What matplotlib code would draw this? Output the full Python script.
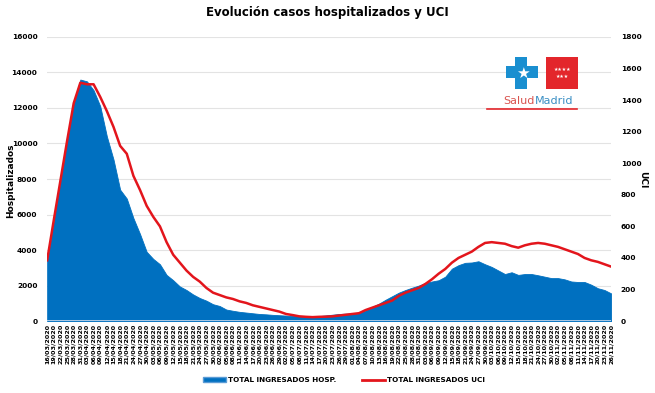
import numpy as np
import pandas as pd
import matplotlib
matplotlib.use("Agg")
import matplotlib.pyplot as plt
from matplotlib.patches import Rectangle, Polygon, Patch
from matplotlib.lines import Line2D

# values read every 3 days, 16/03/2020 .. 26/11/2020
dates = pd.date_range("2020-03-16", "2020-11-26", freq="3D")
hosp = [3400, 5650, 7900, 10150, 12300, 13600, 13500, 13000, 12100, 10400,
        9100, 7400, 6900, 5800, 4900, 3900, 3500, 3200, 2600, 2300,
        1950, 1750, 1500, 1300, 1150, 950, 850, 650, 580, 520,
        480, 440, 400, 380, 350, 330, 310, 290, 280, 270,
        270, 280, 320, 360, 400, 420, 430, 450, 600, 800,
        980, 1200, 1400, 1600, 1750, 1880, 2000, 2150, 2230, 2300,
        2500, 2950, 3150, 3280, 3300, 3370, 3200, 3050, 2850, 2650,
        2750, 2600, 2650, 2650, 2580, 2500, 2420, 2420, 2350, 2230,
        2200, 2200, 2050, 1850, 1750, 1560]
uci = [385, 640, 890, 1140, 1380, 1510, 1500, 1500, 1420, 1330,
       1230, 1110, 1060, 920, 830, 730, 660, 600, 500, 420,
       370, 320, 280, 250, 210, 180, 165, 150, 140, 125,
       115, 100, 90, 80, 70, 60, 45, 38, 30, 27,
       25, 27, 28, 30, 35, 40, 45, 50, 70, 85,
       100, 115, 130, 160, 180, 195, 210, 235, 265, 300,
       330, 370, 400, 420, 440, 470, 495, 500, 495, 490,
       475, 465, 480, 490, 495, 490, 480, 470, 455, 440,
       425, 400, 385, 375, 360, 345]
tick_labels = [d.strftime("%d/%m/%Y") for d in dates]

blue = "#0070C0"
red = "#E3151C"

fig = plt.figure(figsize=(6.55, 3.93), dpi=100)
ax = fig.add_axes([0.072, 0.183, 0.861, 0.723])
ax2 = ax.twinx()

x = np.arange(len(dates)) * 3
ax.fill_between(x, 0, hosp, color=blue, linewidth=0.6, edgecolor=blue)
ax2.plot(x, uci, color=red, lw=1.8)

ax.set_xlim(0, x[-1])
ax.set_ylim(0, 16000)
ax2.set_ylim(0, 1800)
ax.set_yticks(np.arange(0, 16001, 2000))
ax2.set_yticks(np.arange(0, 1801, 200))
ax.set_xticks(x)
ax.set_xticklabels(tick_labels, rotation=90, fontsize=4.6, fontweight="bold")
ax.tick_params(axis="y", labelsize=5.3, length=0, pad=7)
ax2.tick_params(axis="y", labelsize=5.3, length=0, pad=7)
ax.tick_params(axis="x", length=0, pad=2)
for t in ax.get_yticklabels() + ax2.get_yticklabels():
    t.set_fontweight("bold")
ax.grid(axis="y", color="#e3e3e3", lw=0.8)
ax.set_axisbelow(True)
for a in (ax, ax2):
    for s in a.spines.values():
        s.set_visible(False)
ax.axhline(0, color="#c9d9ec", lw=1.2)

W, H = 655, 393
def fx(px):
    return px / W
def fy(py):
    return 1 - py / H

fig.text(fx(11), fy(181), "Hospitalizados", rotation=90, fontsize=6.5,
         fontweight="bold", ha="center", va="center")
fig.text(fx(643), fy(180), "UCI", rotation=-90, fontsize=6.5,
         fontweight="bold", ha="center", va="center")
fig.suptitle("Evolución casos hospitalizados y UCI", y=0.985,
             fontsize=8.5, fontweight="bold")

handles = [Patch(facecolor=blue, edgecolor="#5b9bd5"),
           Line2D([0], [0], color=red, lw=2)]
fig.legend(handles, ["TOTAL INGRESADOS HOSP.", "TOTAL INGRESADOS UCI"],
           loc="center", bbox_to_anchor=(0.525, 0.032), ncol=2, frameon=False,
           prop={"size": 5.2, "weight": "bold"}, handlelength=3.2,
           columnspacing=3.5, handletextpad=0.3)

# SaludMadrid logo
cross = [(515, 57), (527, 57), (527, 66), (538, 66), (538, 78), (527, 78),
         (527, 89), (515, 89), (515, 78), (506, 78), (506, 66), (515, 66)]
fig.patches.append(Polygon([(fx(a), fy(b)) for a, b in cross], closed=True,
                           transform=fig.transFigure, facecolor="#1a8fd0",
                           edgecolor="none"))
fig.text(fx(523), fy(73), "★", color="white", fontsize=11, ha="center",
         va="center", family="DejaVu Sans")
fig.patches.append(Rectangle((fx(546), fy(89)), 32 / W, 32 / H,
                             transform=fig.transFigure, facecolor="#e3262b",
                             edgecolor="none"))
fig.text(fx(562), fy(69), "★★★★", color="white", fontsize=3.5, ha="center",
         va="center", family="DejaVu Sans")
fig.text(fx(562), fy(76), "★★★", color="white", fontsize=3.5, ha="center",
         va="center", family="DejaVu Sans")
fig.text(fx(535), fy(101), "Salud", color="#d9534f", fontsize=8,
         ha="right", va="center")
fig.text(fx(535), fy(101), "Madrid", color="#3a8fc4", fontsize=8,
         ha="left", va="center")
fig.add_artist(Line2D([fx(487), fx(577)], [fy(109), fy(109)],
                      color="#e3262b", lw=1.2, transform=fig.transFigure))

fig.savefig("out.png", dpi=100)
